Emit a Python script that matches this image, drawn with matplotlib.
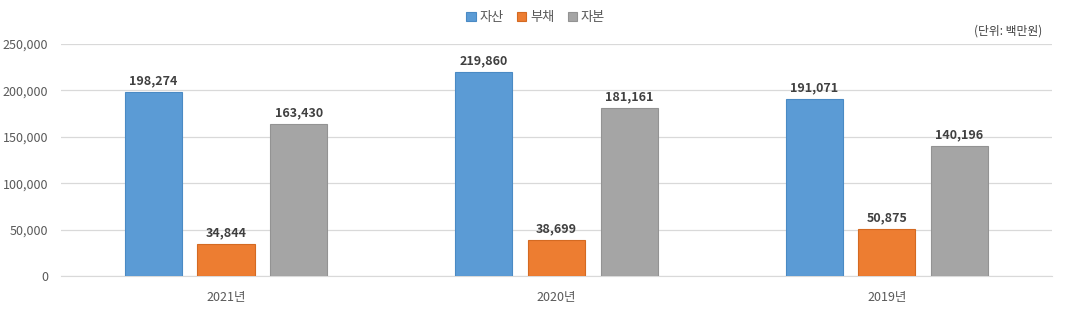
import numpy as np
import matplotlib
matplotlib.use("Agg")
import matplotlib.pyplot as plt
from matplotlib.ticker import FuncFormatter

plt.rcParams['font.family'] = ['Noto Sans CJK KR', 'DejaVu Sans']

years = ["2021년", "2020년", "2019년"]
series = ["자산", "부채", "자본"]
assets = [198274, 219860, 191071]
debts = [34844, 38699, 50875]
equity = [163430, 181161, 140196]
colors = ["#5B9BD5", "#ED7D31", "#A5A5A5"]
edges = ["#4A8AC4", "#D46A22", "#939393"]

fig = plt.figure(figsize=(10.67, 3.14), dpi=100)
ax = fig.add_axes([0.057, 0.121, 0.929, 0.739])

x = np.arange(len(years))
w = 0.173
offs = [-0.22, 0, 0.22]
for vals, name, c, ec, o in zip([assets, debts, equity], series, colors, edges, offs):
    bars = ax.bar(x + o, vals, w, color=c, edgecolor=ec, linewidth=0.8, label=name, zorder=3)
    for b, v in zip(bars, vals):
        ax.text(b.get_x() + b.get_width() / 2, v + 5000, f"{v:,}", ha="center", va="bottom",
                fontsize=9, fontweight="bold", color="#404040")

ax.set_xlim(-0.5, 2.5)
ax.set_ylim(0, 250000)
ax.set_yticks(range(0, 250001, 50000))
ax.yaxis.set_major_formatter(FuncFormatter(lambda v, p: f"{int(v):,}"))
ax.set_xticks(x)
ax.set_xticklabels(years)
ax.grid(axis="y", color="#D9D9D9", linewidth=0.9, zorder=0)
for s in ["top", "right", "left"]:
    ax.spines[s].set_visible(False)
ax.spines["bottom"].set_color("#D9D9D9")
ax.tick_params(length=0, labelsize=9, colors="#595959")
ax.tick_params(axis="x", pad=11)
ax.tick_params(axis="y", pad=9)

fig.legend(loc="center", bbox_to_anchor=(0.502, 0.945), ncol=3, frameon=False, fontsize=9.5,
           handlelength=0.7, handleheight=0.7, handletextpad=0.3, columnspacing=1.0,
           labelcolor="#595959")
fig.text(0.977, 0.9, "(단위: 백만원)", ha="right", va="center", fontsize=8.5, color="#404040")

fig.savefig("out.png", dpi=100)
